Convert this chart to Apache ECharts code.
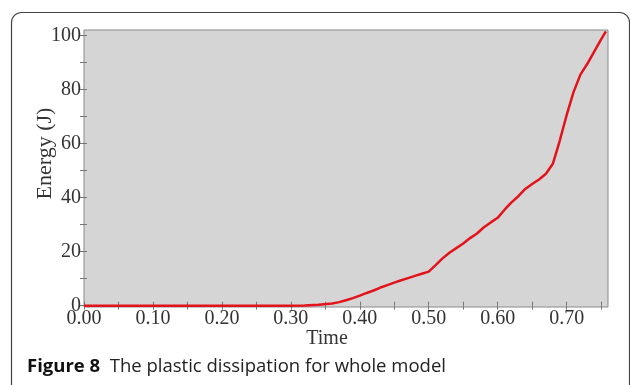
<!DOCTYPE html>
<html>
<head>
<meta charset="utf-8">
<script src="https://cdn.jsdelivr.net/npm/echarts@6/dist/echarts.min.js"></script>
<style>
  html, body { margin: 0; padding: 0; background: #fff; }
  #chart { width: 630px; height: 385px; }
</style>
</head>
<body>
<div id="chart"></div>
<script>
// time (s) and plastic dissipation energy (J)
const timeValues = [0, 0.10, 0.20, 0.30, 0.32, 0.34, 0.36, 0.37, 0.38, 0.39, 0.40,
  0.41, 0.42, 0.43, 0.44, 0.45, 0.46, 0.47, 0.48, 0.49, 0.50,
  0.51, 0.52, 0.53, 0.54, 0.55, 0.56, 0.57, 0.58, 0.59, 0.60,
  0.61, 0.62, 0.63, 0.64, 0.65, 0.66, 0.67, 0.68, 0.69, 0.70,
  0.71, 0.72, 0.73, 0.74, 0.75, 0.757]
const energyValues = [0, 0, 0, 0, 0.1, 0.3, 0.8, 1.3, 2.0, 2.8, 3.7,
  4.7, 5.6, 6.7, 7.6, 8.5, 9.4, 10.2, 11.0, 11.8, 12.6,
  15.0, 17.5, 19.6, 21.3, 23.0, 25.0, 26.7, 29.0, 30.8, 32.5,
  35.5, 38.2, 40.5, 43.2, 45.0, 46.7, 48.8, 52.5, 61.0, 70.5,
  79.0, 85.5, 89.5, 94.0, 98.5, 101.5]

const xLabelValues = [0, 0.1, 0.2, 0.3, 0.4, 0.5, 0.6, 0.7]
const xTickValues = [0, 0.05, 0.1, 0.15, 0.2, 0.25, 0.3, 0.35, 0.4, 0.45, 0.5, 0.55, 0.6, 0.65, 0.7, 0.75]
const yLabelValues = [0, 20, 40, 60, 80, 100]
const yTickValues = [0, 10, 20, 30, 40, 50, 60, 70, 80, 90, 100]

const serif = '"Liberation Serif", "DejaVu Serif", serif'
const myChart = echarts.init(document.getElementById('chart'))

const tick = (values, len) => ({
  show: true,
  inside: true,
  length: len,
  customValues: values,
  lineStyle: { color: '#777', width: 1 }
})

const options = {
  backgroundColor: '#fff',
  animation: false,
  graphic: [
    {
      type: 'rect',
      shape: { x: 11.5, y: 12.5, width: 618, height: 400, r: 10 },
      style: { fill: 'none', stroke: '#444', lineWidth: 1.2 },
      z: -10
    },
    {
      type: 'text',
      left: 27,
      top: 357,
      style: {
        text: '{b|Figure 8}  The plastic dissipation for whole model',
        font: '18.5px "Open Sans", sans-serif',
        fill: '#222',
        rich: {
          b: { fontWeight: 'bold', fontSize: 18.5, fontFamily: '"Open Sans", sans-serif', fill: '#111' }
        }
      }
    }
  ],
  grid: {
    left: 84,
    right: 22,
    top: 30,
    bottom: 78,
    show: true,
    backgroundColor: '#d5d5d5',
    borderColor: '#8a8a8a',
    borderWidth: 1
  },
  xAxis: [
    {
      type: 'value',
      min: 0,
      max: 0.76,
      name: 'Time',
      nameLocation: 'middle',
      nameGap: 22,
      nameMoveOverlap: false,
      nameTextStyle: { fontFamily: serif, fontSize: 20, color: '#333', padding: [0, 38, 0, 0] },
      axisLine: { show: false },
      splitLine: { show: false },
      axisTick: tick(xTickValues, 4),
      axisLabel: {
        customValues: xLabelValues,
        formatter: (v) => v.toFixed(2),
        fontFamily: serif,
        fontSize: 20,
        color: '#333',
        margin: 2
      }
    },
    {
      type: 'value',
      position: 'top',
      min: 0,
      max: 0.76,
      axisLine: { show: false },
      splitLine: { show: false },
      axisTick: tick(xTickValues, 4),
      axisLabel: { show: false }
    }
  ],
  yAxis: [
    {
      type: 'value',
      min: -0.5,
      max: 102,
      name: 'Energy (J)',
      nameLocation: 'middle',
      nameGap: 28,
      nameMoveOverlap: false,
      nameTextStyle: { fontFamily: serif, fontSize: 22, color: '#333', padding: [0, 0, 0, 30] },
      axisLine: { show: false },
      splitLine: { show: false },
      axisTick: tick(yTickValues, 3),
      axisLabel: {
        customValues: yLabelValues,
        fontFamily: serif,
        fontSize: 20,
        color: '#333',
        margin: 3
      }
    },
    {
      type: 'value',
      position: 'right',
      min: -0.5,
      max: 102,
      axisLine: { show: false },
      splitLine: { show: false },
      axisTick: tick(yTickValues, 4),
      axisLabel: { show: false }
    }
  ],
  series: [
    {
      name: 'Plastic dissipation',
      type: 'line',
      data: timeValues.map((t, i) => [t, energyValues[i]]),
      showSymbol: false,
      smooth: false,
      lineStyle: { color: '#e3131b', width: 2.5 }
    }
  ]
}
myChart.setOption(options)
</script>
</body>
</html>
